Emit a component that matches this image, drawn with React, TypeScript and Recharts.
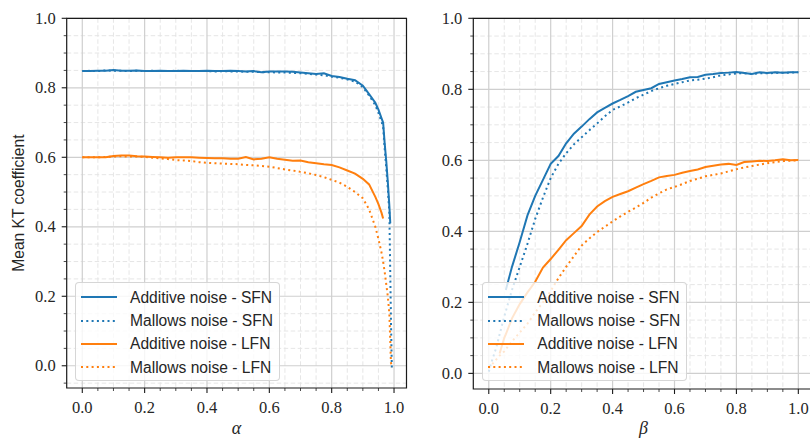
import React from "react";
import {
  LineChart,
  Line,
  XAxis,
  YAxis,
  CartesianGrid,
  ReferenceArea,
  Legend,
  Label,
} from "recharts";

const BLUE = "#1f77b4";
const ORANGE = "#ff7f0e";
const SERIF = "'Liberation Serif', 'DejaVu Serif', serif";
const SANS = "'Liberation Sans', Arial, sans-serif";
const DOTS = "2 3.3";

// left panel: alpha sweep
const alpha = [
  0, 0.025, 0.05, 0.075, 0.1, 0.125, 0.15, 0.175, 0.2, 0.225, 0.25, 0.275, 0.3,
  0.325, 0.35, 0.375, 0.4, 0.425, 0.45, 0.475, 0.5, 0.525, 0.55, 0.575, 0.6,
  0.625, 0.65, 0.675, 0.7, 0.725, 0.75, 0.775, 0.8, 0.825, 0.85, 0.875, 0.9,
  0.92, 0.94, 0.95, 0.96, 0.965, 0.97, 0.975, 0.98, 0.985, 0.988, 0.99, 0.993,
];
const addSfnA = [
  0.848, 0.848, 0.849, 0.849, 0.851, 0.849, 0.849, 0.85, 0.848, 0.848, 0.849,
  0.848, 0.848, 0.849, 0.848, 0.848, 0.849, 0.848, 0.848, 0.849, 0.848, 0.847,
  0.848, 0.845, 0.847, 0.847, 0.847, 0.846, 0.844, 0.842, 0.84, 0.842, 0.834,
  0.831, 0.826, 0.822, 0.806,
  0.782, 0.757, 0.737, 0.712, 0.7, 0.64, 0.59, 0.53, 0.46, 0.41, null, null,
];
const malSfnA = [
  0.848, 0.849, 0.848, 0.85, 0.849, 0.849, 0.848, 0.849, 0.848, 0.849, 0.848,
  0.848, 0.849, 0.848, 0.848, 0.848, 0.848, 0.847, 0.848, 0.847, 0.847, 0.846,
  0.846, 0.845, 0.845, 0.844, 0.844, 0.843, 0.842, 0.84, 0.838, 0.836, 0.832,
  0.829, 0.824, 0.818, 0.802,
  0.778, 0.75, 0.728, 0.702, 0.688, 0.625, 0.57, 0.51, 0.44, 0.26, 0.14, -0.01,
];
const addLfnA = [
  0.6, 0.6, 0.6, 0.6, 0.604, 0.605, 0.605, 0.603, 0.602, 0.601, 0.6, 0.599,
  0.6, 0.6, 0.6, 0.599, 0.598, 0.597, 0.597, 0.596, 0.596, 0.601, 0.594, 0.596,
  0.6, 0.596, 0.593, 0.59, 0.591, 0.586, 0.583, 0.58, 0.578, 0.571, 0.562,
  0.553, 0.538,
  0.522, 0.486, 0.465, 0.44, 0.424, null, null, null, null, null, null, null,
];
const malLfnA = [
  0.6, 0.6, 0.6, 0.601, 0.602, 0.603, 0.602, 0.602, 0.601, 0.599, 0.597, 0.595,
  0.592, 0.591, 0.589, 0.586, 0.584, 0.583, 0.582, 0.581, 0.58, 0.578, 0.577,
  0.575, 0.573, 0.569, 0.565, 0.562, 0.558, 0.554, 0.549, 0.543, 0.535, 0.527,
  0.515, 0.5, 0.482,
  0.45, 0.4, 0.365, 0.325, 0.3, 0.27, 0.235, 0.2, 0.15, 0.07, 0.01, -0.005,
];

// right panel: beta sweep
const beta = [
  0, 0.01, 0.025, 0.035, 0.05, 0.055,
  0.075, 0.1, 0.125, 0.15, 0.175, 0.2, 0.225, 0.25, 0.275, 0.3, 0.325, 0.35,
  0.375, 0.4, 0.425, 0.45, 0.475, 0.5, 0.525, 0.55, 0.575, 0.6, 0.625, 0.65,
  0.675, 0.7, 0.725, 0.75, 0.775, 0.8, 0.825, 0.85, 0.875, 0.9, 0.925, 0.95,
  0.975, 1.0,
];
const addSfnB = [
  null, null, null, null, null, 0.235,
  0.3, 0.37, 0.445, 0.5, 0.545, 0.59, 0.612, 0.648, 0.675, 0.695, 0.716, 0.735,
  0.748, 0.76, 0.77, 0.781, 0.793, 0.798, 0.803, 0.815, 0.82, 0.825, 0.829,
  0.834, 0.835, 0.841, 0.843, 0.846, 0.847, 0.849, 0.846, 0.843, 0.848, 0.846,
  0.848, 0.847, 0.848, 0.848,
];
const malSfnB = [
  0.005, 0.035, 0.075, 0.11, 0.16, 0.175,
  0.235, 0.3, 0.365, 0.435, 0.495, 0.55, 0.59, 0.62, 0.645, 0.665, 0.685,
  0.704, 0.724, 0.742, 0.752, 0.763, 0.775, 0.785, 0.795, 0.803, 0.81, 0.815,
  0.82, 0.825, 0.827, 0.83, 0.834, 0.839, 0.842, 0.845, 0.845, 0.843, 0.845,
  0.845, 0.846, 0.847, 0.847, 0.848,
];
const addLfnB = [
  null, null, null, 0.056, 0.1, 0.11,
  0.155, 0.195, 0.228, 0.258, 0.298, 0.322, 0.348, 0.375, 0.395, 0.415, 0.447,
  0.47, 0.485, 0.497, 0.505, 0.513, 0.523, 0.533, 0.542, 0.552, 0.556, 0.559,
  0.565, 0.57, 0.574, 0.581, 0.585, 0.588, 0.59, 0.587, 0.595, 0.597, 0.599,
  0.598, 0.6, 0.603, 0.6, 0.601,
];
const malLfnB = [
  0.015, 0.025, 0.04, 0.05, 0.062, 0.068,
  0.09, 0.115, 0.14, 0.172, 0.2, 0.232, 0.268, 0.3, 0.33, 0.36, 0.38, 0.398,
  0.413, 0.428, 0.442, 0.455, 0.467, 0.48, 0.495, 0.507, 0.518, 0.525, 0.533,
  0.542, 0.548, 0.555, 0.559, 0.563, 0.569, 0.575, 0.58, 0.584, 0.588, 0.592,
  0.595, 0.598, 0.599, 0.6,
];

const majorTicks = [0, 0.2, 0.4, 0.6, 0.8, 1.0];
const minorTicks = [
  -0.05, 0.05, 0.1, 0.15, 0.25, 0.3, 0.35, 0.45, 0.5, 0.55, 0.65, 0.7, 0.75,
  0.85, 0.9, 0.95, 1.05,
];

const series = [
  { key: "addSfn", name: "Additive noise - SFN", color: BLUE, dash: undefined },
  { key: "malSfn", name: "Mallows noise - SFN", color: BLUE, dash: DOTS },
  { key: "addLfn", name: "Additive noise - LFN", color: ORANGE, dash: undefined },
  { key: "malLfn", name: "Mallows noise - LFN", color: ORANGE, dash: DOTS },
];

const leftData = alpha.map((x, i) => ({
  x,
  addSfn: addSfnA[i],
  malSfn: malSfnA[i],
  addLfn: addLfnA[i],
  malLfn: malLfnA[i],
}));
const rightData = beta.map((x, i) => ({
  x,
  addSfn: addSfnB[i],
  malSfn: malSfnB[i],
  addLfn: addLfnB[i],
  malLfn: malLfnB[i],
}));

const isMajor = (v: number) => majorTicks.some((t) => Math.abs(t - v) < 1e-9);
const inside = (list: number[], d: number[]) =>
  list.filter((t) => t > d[0] + 1e-9 && t < d[1] + 1e-9);
const allIn = (d: number[]) =>
  [...inside(majorTicks, d), ...inside(minorTicks, d)].sort((a, b) => a - b);

function XTick(props: any) {
  const { x, y, payload } = props;
  const major = isMajor(payload.value);
  return (
    <g>
      <line x1={x} x2={x} y1={y} y2={y + (major ? 5 : 3)} stroke="#1a1a1a" strokeWidth={major ? 1.1 : 0.8} />
      {major && (
        <text x={x} y={y + 25} textAnchor="middle" fontFamily={SERIF} fontSize={16.5} fill="#262626">
          {payload.value.toFixed(1)}
        </text>
      )}
    </g>
  );
}

function YTick(props: any) {
  const { x, y, payload } = props;
  const major = isMajor(payload.value);
  return (
    <g>
      <line x1={x - (major ? 5 : 3)} x2={x} y1={y} y2={y} stroke="#1a1a1a" strokeWidth={major ? 1.1 : 0.8} />
      {major && (
        <text x={x - 11} y={y} dy={5.5} textAnchor="end" fontFamily={SERIF} fontSize={16.5} fill="#262626">
          {payload.value.toFixed(1)}
        </text>
      )}
    </g>
  );
}

function YLabel(props: any) {
  const vb = props.viewBox;
  const cx = vb.x + 12.3;
  const cy = vb.y + vb.height / 2;
  return (
    <text
      x={cx}
      y={cy}
      transform={`rotate(-90, ${cx}, ${cy})`}
      textAnchor="middle"
      dominantBaseline="central"
      fontFamily={SANS}
      fontSize={15.6}
      fill="#262626"
    >
      Mean KT coefficient
    </text>
  );
}

function LegendBox() {
  return (
    <div
      style={{
        boxSizing: "border-box",
        width: 205,
        height: 99,
        background: "rgba(255,255,255,0.8)",
        border: "1px solid rgba(204,204,204,0.8)",
        borderRadius: 4,
        paddingTop: 2.5,
      }}
    >
      {series.map((s) => (
        <div key={s.key} style={{ display: "flex", alignItems: "center", height: 23.4 }}>
          <svg width={36} height={4} style={{ marginLeft: 5, marginRight: 13, display: "block" }}>
            <line x1={0} x2={36} y1={2} y2={2} stroke={s.color} strokeWidth={2} strokeDasharray={s.dash} />
          </svg>
          <span style={{ fontFamily: SANS, fontSize: 15.6, color: "#262626", lineHeight: "23.4px", whiteSpace: "nowrap" }}>
            {s.name}
          </span>
        </div>
      ))}
    </div>
  );
}

interface PanelProps {
  data: any[];
  xDomain: number[];
  yDomain: number[];
  xLabel: string;
  yLabel: boolean;
  yAxisWidth: number;
  marginRight: number;
  xAxisHeight: number;
  legendLeft: number;
}

function Panel(p: PanelProps) {
  const xTicks = allIn(p.xDomain);
  const yTicks = allIn(p.yDomain);
  return (
    <LineChart
      width={410}
      height={440}
      data={p.data}
      margin={{ top: 18.3, right: p.marginRight, bottom: 0, left: 6 }}
    >
      <CartesianGrid
        verticalValues={inside(minorTicks, p.xDomain)}
        horizontalValues={inside(minorTicks, p.yDomain)}
        stroke="#e3e3e3"
        strokeDasharray="4.5 2.5"
        strokeWidth={0.9}
      />
      <CartesianGrid
        verticalValues={inside(majorTicks, p.xDomain)}
        horizontalValues={inside(majorTicks, p.yDomain)}
        stroke="#cfcfcf"
        strokeWidth={1.2}
      />
      <XAxis
        dataKey="x"
        type="number"
        domain={p.xDomain}
        allowDataOverflow
        ticks={xTicks}
        interval={0}
        tickSize={0}
        tickMargin={0}
        tickLine={false}
        axisLine={false}
        tick={XTick}
        height={p.xAxisHeight}
      >
        <Label
          value={p.xLabel}
          position="insideBottom"
          offset={6.5}
          style={{ fontFamily: SERIF, fontStyle: "italic", fontSize: 18, fill: "#262626" }}
        />
      </XAxis>
      <YAxis
        type="number"
        domain={p.yDomain}
        allowDataOverflow
        ticks={yTicks}
        interval={0}
        tickSize={0}
        tickMargin={0}
        tickLine={false}
        axisLine={false}
        tick={YTick}
        width={p.yAxisWidth}
      >
        {p.yLabel && <Label content={YLabel} />}
      </YAxis>
      {series.map((s) => (
        <Line
          key={s.key}
          dataKey={s.key}
          name={s.name}
          type="linear"
          stroke={s.color}
          strokeWidth={2}
          strokeDasharray={s.dash}
          dot={false}
          activeDot={false}
          isAnimationActive={false}
        />
      ))}
      <ReferenceArea
        x1={p.xDomain[0]}
        x2={p.xDomain[1]}
        y1={p.yDomain[0]}
        y2={p.yDomain[1]}
        fill="none"
        stroke="#1a1a1a"
        strokeWidth={1.2}
        ifOverflow="visible"
      />
      <Legend
        layout="vertical"
        align="center"
        verticalAlign="middle"
        wrapperStyle={{ left: p.legendLeft, top: 282, width: 205, height: 99 }}
        content={() => <LegendBox />}
      />
    </LineChart>
  );
}

export default function App() {
  return (
    <div
      style={{
        position: "absolute",
        left: 0,
        top: 0,
        width: 810,
        height: 440,
        overflow: "hidden",
        background: "#fff",
      }}
    >
      <div style={{ position: "absolute", left: 0, top: 0 }}>
        <Panel
          data={leftData}
          xDomain={[-0.05, 1.04]}
          yDomain={[-0.064, 1.0]}
          xLabel="α"
          yLabel
          yAxisWidth={60.7}
          marginRight={3.5}
          xAxisHeight={52}
          legendLeft={75}
        />
      </div>
      <div style={{ position: "absolute", left: 405, top: 0 }}>
        <Panel
          data={rightData}
          xDomain={[-0.05, 1.05]}
          yDomain={[-0.044, 1.0]}
          xLabel="β"
          yLabel={false}
          yAxisWidth={62.3}
          marginRight={1.2}
          xAxisHeight={51}
          legendLeft={77.3}
        />
      </div>
    </div>
  );
}
